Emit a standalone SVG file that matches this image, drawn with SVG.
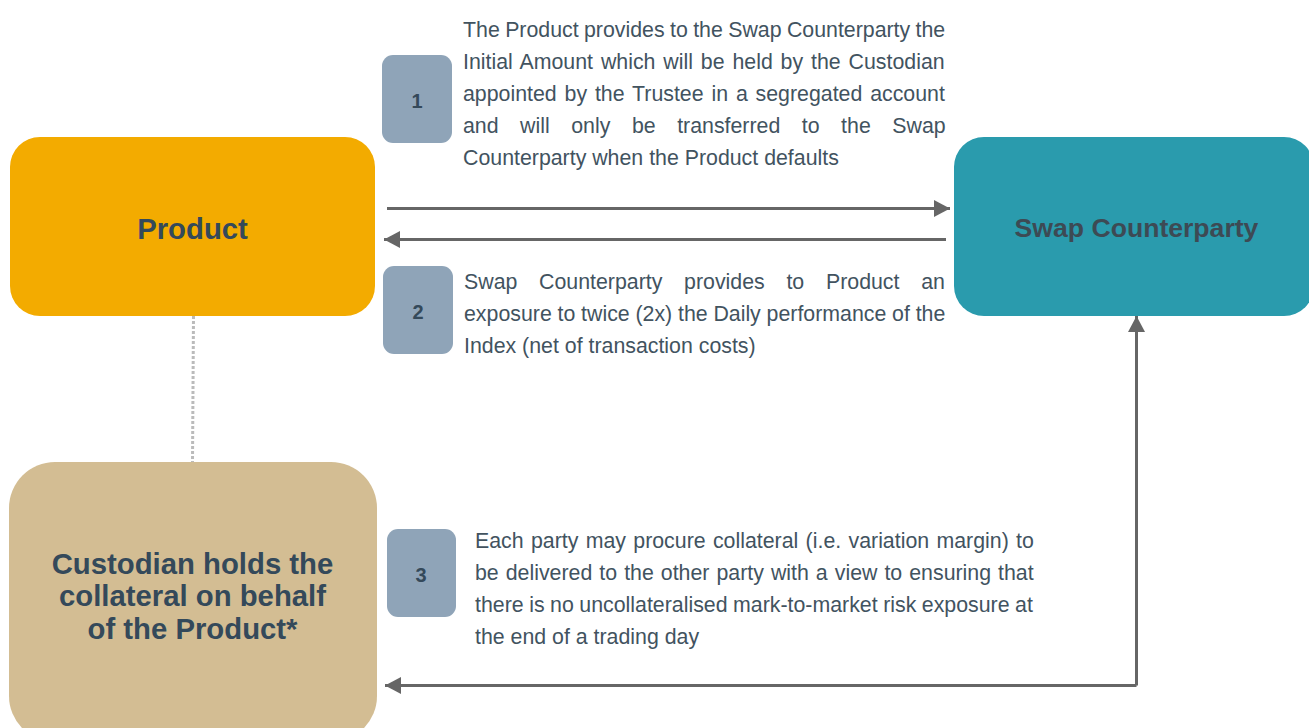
<svg xmlns="http://www.w3.org/2000/svg" width="1309" height="728" viewBox="0 0 1309 728">
<style>
text{font-family:"Liberation Sans",Arial,sans-serif}
.t{font-size:21.33px;fill:#42535f}
.h{font-size:29.3px;font-weight:bold;fill:#34495a;text-anchor:middle}
.n{font-size:20px;font-weight:bold;fill:#34495a;text-anchor:middle}
.b{fill:#8fa4b8}
.c{stroke:#666;stroke-width:3;fill:none}
</style>
<defs>
<marker id="a" markerUnits="userSpaceOnUse" markerWidth="16" markerHeight="17" refX="16" refY="8.500" orient="auto"><path d="M0 0L16 8.500L0 17Z" fill="#666"/></marker>
</defs>
<rect width="1309" height="728" fill="#fff"/>
<g id="connectors">
<path d="M193.500 316L192.500 462" stroke="#bbb" stroke-width="3" stroke-dasharray="3 2" fill="none"/>
<path class="c" d="M387 208.500H950" marker-end="url(#a)"/>
<path class="c" d="M946 239.500H384" marker-end="url(#a)"/>
<path class="c" d="M1136.500 685.500H385" marker-end="url(#a)"/>
<path class="c" d="M1136.500 685.500V316" marker-end="url(#a)"/>
</g>
<g id="product"><rect x="10" y="137" width="365" height="179" rx="30" fill="#f3ab00"/><text class="h" x="192.500" y="239">Product</text></g>
<g id="swap"><rect x="954" y="137" width="360" height="179" rx="30" fill="#2a9bad"/><text class="h" x="1136.500" y="237" style="fill:#3d4a54;font-size:26.600px">Swap Counterparty</text></g>
<g id="custodian"><rect x="9" y="462" width="368" height="280" rx="46" fill="#d3bd93"/>
<text class="h" x="192.500" y="574">Custodian holds the</text><text class="h" x="192.500" y="606">collateral on behalf</text><text class="h" x="192.500" y="639">of the Product*</text></g>
<g id="step1"><rect class="b" x="382" y="55" width="70" height="88" rx="11"/><text class="n" x="417" y="108">1</text>
<text class="t" x="463" y="37" word-spacing="-0.55">The Product provides to the Swap Counterparty the</text>
<text class="t" x="463" y="69" word-spacing="1.96">Initial Amount which will be held by the Custodian</text>
<text class="t" x="463" y="101" word-spacing="1.93">appointed by the Trustee in a segregated account</text>
<text class="t" x="463" y="133" word-spacing="15.6">and will only be transferred to the Swap</text>
<text class="t" x="463" y="165">Counterparty when the Product defaults</text></g>
<g id="step2"><rect class="b" x="383" y="266" width="70" height="88" rx="11"/><text class="n" x="418" y="319">2</text>
<text class="t" x="464" y="289" word-spacing="15.8">Swap Counterparty provides to Product an</text>
<text class="t" x="464" y="321" word-spacing="-0.15">exposure to twice (2x) the Daily performance of the</text>
<text class="t" x="464" y="353">Index (net of transaction costs)</text></g>
<g id="step3"><rect class="b" x="387" y="529" width="69" height="88" rx="11"/><text class="n" x="421" y="582">3</text>
<text class="t" x="475" y="548" word-spacing="1.4">Each party may procure collateral (i.e. variation margin) to</text>
<text class="t" x="475" y="580" word-spacing="1.1">be delivered to the other party with a view to ensuring that</text>
<text class="t" x="475" y="612" word-spacing="-0.4">there is no uncollateralised mark-to-market risk exposure at</text>
<text class="t" x="475" y="644">the end of a trading day</text></g>
</svg>
